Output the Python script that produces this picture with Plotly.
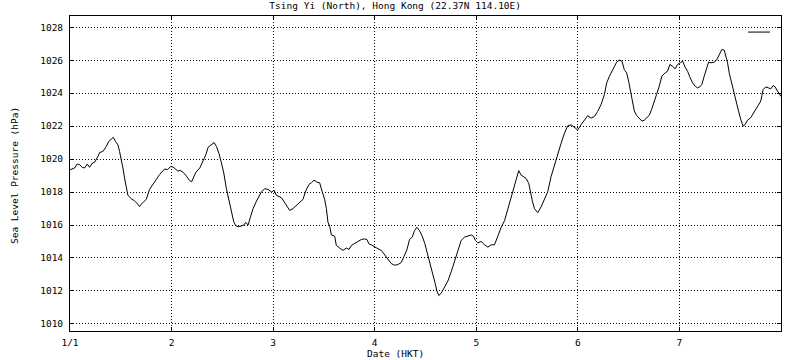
import plotly.graph_objects as go

# Time in days (1 = 1 Jan 00:00 HKT) and sea-level pressure (hPa)
days = [1.000, 1.007, 1.046, 1.070, 1.095, 1.120, 1.144, 1.170, 1.193, 1.220,
        1.242, 1.275, 1.292, 1.324, 1.357, 1.380, 1.406, 1.426, 1.449, 1.472,
        1.488, 1.505, 1.521, 1.537, 1.554, 1.570, 1.603, 1.636, 1.669, 1.685,
        1.700, 1.718, 1.751, 1.783, 1.816, 1.849, 1.882, 1.931, 1.963, 1.990,
        2.013, 2.040, 2.062, 2.082, 2.114, 2.147, 2.174, 2.197, 2.213, 2.239,
        2.278, 2.311, 2.337, 2.360, 2.393, 2.419, 2.442, 2.468, 2.491, 2.514,
        2.540, 2.567, 2.590, 2.612, 2.632, 2.655, 2.688, 2.711, 2.730, 2.754,
        2.777, 2.803, 2.836, 2.862, 2.885, 2.917, 2.950, 2.983, 3.010, 3.032,
        3.081, 3.124, 3.163, 3.196, 3.229, 3.261, 3.294, 3.320, 3.353, 3.376,
        3.402, 3.432, 3.458, 3.481, 3.507, 3.524, 3.540, 3.557, 3.573, 3.606,
        3.622, 3.655, 3.688, 3.720, 3.747, 3.770, 3.802, 3.835, 3.868, 3.901,
        3.924, 3.943, 3.966, 3.999, 4.032, 4.065, 4.097, 4.130, 4.163, 4.196,
        4.228, 4.261, 4.294, 4.317, 4.343, 4.369, 4.392, 4.415, 4.441, 4.468,
        4.494, 4.523, 4.546, 4.572, 4.595, 4.612, 4.631, 4.654, 4.687, 4.720,
        4.753, 4.785, 4.818, 4.851, 4.884, 4.917, 4.950, 4.972, 4.992, 5.015,
        5.048, 5.081, 5.114, 5.147, 5.179, 5.212, 5.245, 5.278, 5.301, 5.327,
        5.353, 5.376, 5.399, 5.418, 5.441, 5.464, 5.490, 5.517, 5.533, 5.550,
        5.573, 5.605, 5.638, 5.671, 5.703, 5.736, 5.769, 5.802, 5.835, 5.868,
        5.900, 5.933, 5.966, 5.999, 6.031, 6.064, 6.097, 6.130, 6.163, 6.195,
        6.228, 6.261, 6.284, 6.310, 6.336, 6.359, 6.382, 6.408, 6.434, 6.457,
        6.480, 6.500, 6.523, 6.539, 6.556, 6.578, 6.605, 6.631, 6.654, 6.677,
        6.703, 6.726, 6.752, 6.775, 6.801, 6.827, 6.860, 6.883, 6.906, 6.932,
        6.958, 6.981, 7.008, 7.031, 7.054, 7.080, 7.106, 7.129, 7.155, 7.178,
        7.201, 7.221, 7.244, 7.267, 7.287, 7.310, 7.342, 7.365, 7.392, 7.418,
        7.441, 7.457, 7.474, 7.490, 7.516, 7.539, 7.562, 7.582, 7.604, 7.627,
        7.647, 7.670, 7.702, 7.735, 7.768, 7.801, 7.824, 7.850, 7.876, 7.899,
        7.922, 7.942, 7.965, 7.988, 8.000]

pressure = [1019.35, 1019.36, 1019.46, 1019.70, 1019.66, 1019.50, 1019.46, 1019.70, 1019.50, 1019.75,
            1019.80, 1020.16, 1020.40, 1020.46, 1020.76, 1021.06, 1021.20, 1021.32, 1021.06, 1020.86,
            1020.46, 1020.00, 1019.46, 1018.86, 1018.16, 1017.80, 1017.60, 1017.46, 1017.26, 1017.12,
            1017.25, 1017.36, 1017.56, 1018.16, 1018.46, 1018.76, 1019.06, 1019.40, 1019.36, 1019.55,
            1019.52, 1019.40, 1019.26, 1019.32, 1019.20, 1018.96, 1018.72, 1018.62, 1018.86, 1019.20,
            1019.46, 1019.86, 1020.26, 1020.72, 1020.86, 1021.00, 1020.76, 1020.32, 1019.76, 1019.16,
            1018.20, 1017.40, 1016.70, 1016.20, 1015.96, 1015.90, 1015.94, 1016.00, 1016.16, 1016.00,
            1016.50, 1017.00, 1017.45, 1017.78, 1018.02, 1018.20, 1018.16, 1018.00, 1018.10, 1017.80,
            1017.66, 1017.26, 1016.88, 1017.00, 1017.20, 1017.36, 1017.56, 1018.06, 1018.46, 1018.56,
            1018.72, 1018.60, 1018.56, 1018.06, 1017.56, 1017.00, 1016.16, 1015.92, 1015.40, 1015.32,
            1014.76, 1014.60, 1014.46, 1014.60, 1014.52, 1014.76, 1014.86, 1015.00, 1015.12, 1015.16,
            1015.12, 1014.86, 1014.80, 1014.66, 1014.56, 1014.46, 1014.20, 1013.86, 1013.66, 1013.56,
            1013.60, 1013.72, 1014.20, 1014.50, 1015.12, 1015.26, 1015.66, 1015.86, 1015.66, 1015.32,
            1014.86, 1014.20, 1013.66, 1013.06, 1012.46, 1012.00, 1011.72, 1011.86, 1012.20, 1012.60,
            1013.16, 1013.76, 1014.46, 1015.06, 1015.26, 1015.32, 1015.40, 1015.32, 1015.06, 1014.92,
            1015.00, 1014.80, 1014.66, 1014.80, 1014.80, 1015.32, 1015.86, 1016.26, 1016.76, 1017.40,
            1018.00, 1018.54, 1019.00, 1019.30, 1019.03, 1018.93, 1018.83, 1018.52, 1018.01, 1017.50,
            1016.99, 1016.75, 1017.10, 1017.61, 1018.01, 1018.93, 1019.64, 1020.25, 1020.96, 1021.57,
            1022.02, 1022.08, 1021.94, 1021.77, 1022.08, 1022.38, 1022.63, 1022.48, 1022.59, 1022.89,
            1023.30, 1023.91, 1024.62, 1025.02, 1025.33, 1025.63, 1025.88, 1026.00, 1025.94, 1025.43,
            1025.23, 1024.73, 1024.02, 1023.52, 1022.91, 1022.65, 1022.44, 1022.30, 1022.36, 1022.51,
            1022.65, 1023.01, 1023.58, 1023.92, 1024.42, 1025.03, 1025.23, 1025.33, 1025.74, 1025.64,
            1025.47, 1025.74, 1025.84, 1025.94, 1025.60, 1025.33, 1024.93, 1024.63, 1024.42, 1024.32,
            1024.38, 1024.53, 1025.03, 1025.54, 1025.88, 1025.84, 1025.88, 1026.00, 1026.34, 1026.65,
            1026.61, 1026.24, 1025.84, 1025.23, 1024.53, 1023.92, 1023.41, 1022.91, 1022.40, 1022.00,
            1022.10, 1022.36, 1022.51, 1022.85, 1023.17, 1023.52, 1024.22, 1024.38, 1024.32, 1024.26,
            1024.46, 1024.38, 1024.12, 1023.92, 1023.80]

x_tick_vals = [1, 2, 3, 4, 5, 6, 7]
x_tick_text = ["1/1", "2", "3", "4", "5", "6", "7"]
y_tick_vals = [1010, 1012, 1014, 1016, 1018, 1020, 1022, 1024, 1026, 1028]

FONT = "DejaVu Sans Mono"
FS = 9.5

fig = go.Figure()
fig.add_trace(go.Scatter(x=days, y=pressure, mode="lines",
                         line=dict(color="black", width=1), showlegend=False))

axis_common = dict(
    showline=True, linecolor="black", linewidth=1, mirror="ticks",
    ticks="inside", ticklen=4, tickcolor="black", tickwidth=1,
    showgrid=True, gridcolor="black", gridwidth=1, griddash="1px,2px",
    zeroline=False, automargin=False,
    tickfont=dict(family=FONT, size=FS, color="black"),
)

fig.update_layout(
    width=800, height=360,
    margin=dict(l=70, r=19, t=16, b=29),
    paper_bgcolor="white", plot_bgcolor="white",
    font=dict(family=FONT, size=FS, color="black"),
    title=dict(text="Tsing Yi (North), Hong Kong (22.37N 114.10E)",
               x=0.494, xref="container", xanchor="center",
               y=0.983, yref="container", yanchor="middle",
               font=dict(family=FONT, size=FS, color="black")),
    xaxis=dict(range=[1, 8], tickvals=x_tick_vals, ticktext=x_tick_text,
               ticklabelstandoff=3, **axis_common),
    yaxis=dict(range=[1009.57, 1028.68], tickvals=y_tick_vals,
               ticklabelstandoff=4, **axis_common),
    shapes=[dict(type="line", xref="paper", yref="paper",
                 x0=0.9536, x1=0.9845, y0=0.949, y1=0.949,
                 line=dict(color="black", width=1))],
    annotations=[
        dict(text="Date (HKT)", xref="paper", yref="paper",
             x=0.4585, y=-0.072, xanchor="center", yanchor="middle",
             showarrow=False, font=dict(family=FONT, size=FS, color="black")),
        dict(text="Sea Level Pressure (hPa)", xref="paper", yref="paper",
             x=-0.0788, y=0.495, xanchor="center", yanchor="middle", textangle=-90,
             showarrow=False, font=dict(family=FONT, size=FS, color="black")),
    ],
)

fig.write_html("out.html", config={"displayModeBar": False},
               post_script="document.body.style.margin='0px';")
